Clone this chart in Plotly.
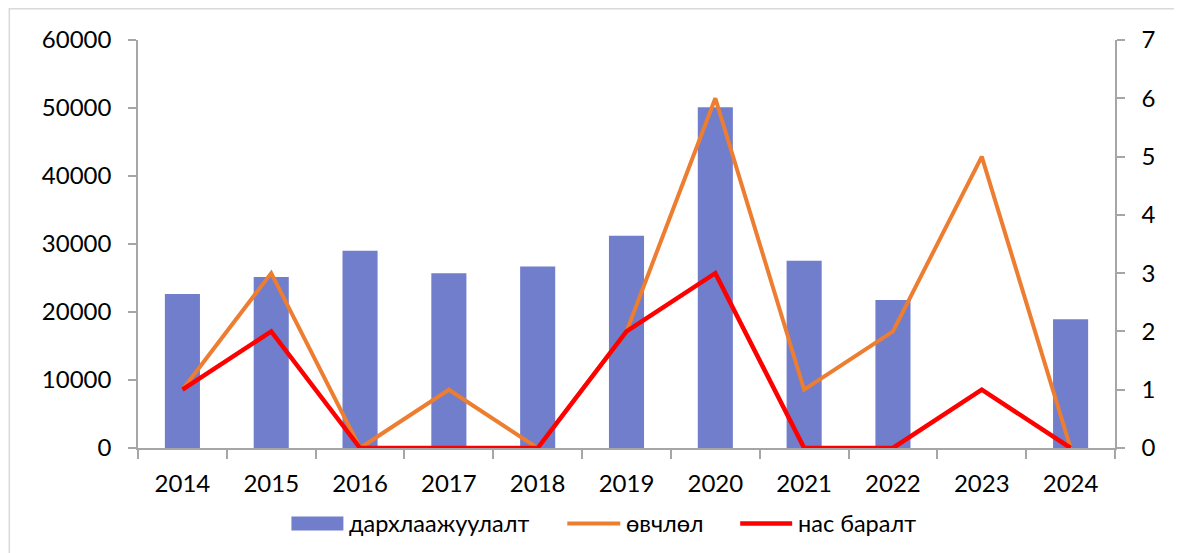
import plotly.graph_objects as go

years = ["2014", "2015", "2016", "2017", "2018", "2019", "2020", "2021", "2022", "2023", "2024"]
vaccination = [22660, 25150, 28990, 25700, 26700, 31220, 50100, 27540, 21780, None, 18930]
illness = [1, 3, 0, 1, 0, 2, 6, 1, 2, 5, 0]
deaths = [1, 2, 0, 0, 0, 2, 3, 0, 0, 1, 0]

names = ["дархлаажуулалт", "өвчлөл", "нас баралт"]
colors = ["#707ecc", "#ed7d31", "#ff0000"]

FONT = "Lato"
AXIS_COLOR = "#a6a6a6"

# page-space geometry (the html body adds an 8px offset)
OFF = 8
PAGE_W, PAGE_H = 1182, 553
L, R, T, B = 137.5, 1115, 40, 448.5
PW, PH = R - L, B - T


def px(x):
    return (x - L) / PW


def py(y):
    return (B - y) / PH


fig = go.Figure()
fig.add_trace(go.Bar(x=years, y=vaccination, name=names[0],
                     marker=dict(color=colors[0], line=dict(width=0)), yaxis="y"))
fig.add_trace(go.Scatter(x=years, y=illness, name=names[1], mode="lines",
                         line=dict(color=colors[1], width=4), yaxis="y2"))
fig.add_trace(go.Scatter(x=years, y=deaths, name=names[2], mode="lines",
                         line=dict(color=colors[2], width=4.5), yaxis="y2"))

fig.update_layout(
    width=PAGE_W - OFF, height=PAGE_H - OFF,
    margin=dict(l=L - OFF, r=PAGE_W - R, t=T - OFF, b=PAGE_H - B, autoexpand=False),
    paper_bgcolor="white", plot_bgcolor="white",
    font=dict(family=FONT, size=24, color="#000000"),
    bargap=0.605,
    showlegend=False,
    xaxis=dict(type="category", showline=True, linecolor=AXIS_COLOR, linewidth=1.5,
               ticks="outside", tickson="boundaries", ticklen=9, tickcolor=AXIS_COLOR,
               tickwidth=1.5, showgrid=False, ticklabelstandoff=13, automargin=False),
    yaxis=dict(range=[0, 60000], dtick=10000, showline=True, linecolor=AXIS_COLOR,
               linewidth=1.5, ticks="outside", ticklen=8, tickcolor=AXIS_COLOR,
               tickwidth=1.5, showgrid=False, zeroline=False, tickformat="d",
               ticklabelstandoff=12, automargin=False),
    yaxis2=dict(range=[0, 7], dtick=1, overlaying="y", side="right", showline=True,
                linecolor=AXIS_COLOR, linewidth=1.5, ticks="outside", ticklen=8,
                tickcolor=AXIS_COLOR, tickwidth=1.5, showgrid=False, zeroline=False,
                ticklabelstandoff=12, automargin=False),
)

# outer chart border
fig.add_shape(type="rect", xref="paper", yref="paper",
              x0=px(OFF + 0.75), x1=px(1180), y0=py(PAGE_H + 10), y1=py(OFF + 0.75),
              line=dict(color="#d9d9d9", width=1.5), fillcolor="rgba(0,0,0,0)", layer="below")

# manual legend
ly = 524
fig.add_shape(type="rect", xref="paper", yref="paper",
              x0=px(291), x1=px(343), y0=py(531), y1=py(517),
              line=dict(width=0), fillcolor=colors[0])
fig.add_shape(type="line", xref="paper", yref="paper",
              x0=px(567), x1=px(620), y0=py(ly), y1=py(ly),
              line=dict(color=colors[1], width=4))
fig.add_shape(type="line", xref="paper", yref="paper",
              x0=px(740), x1=px(792), y0=py(ly), y1=py(ly),
              line=dict(color=colors[2], width=4.5))
for name, x0 in zip(names, [347, 624, 796]):
    fig.add_annotation(text=name, xref="paper", yref="paper", x=px(x0), y=py(ly),
                       xanchor="left", yanchor="middle", showarrow=False,
                       font=dict(family=FONT, size=23.5, color="#000000"))

fig.write_html("out.html")
